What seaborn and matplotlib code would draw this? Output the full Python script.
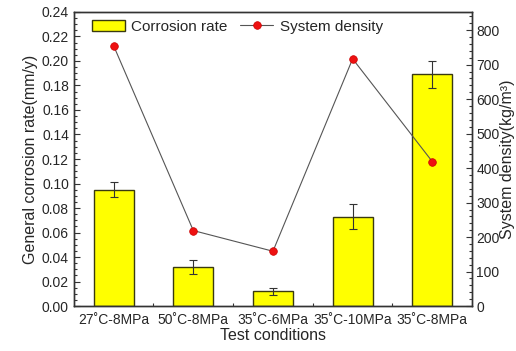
import numpy as np
import pandas as pd
import matplotlib
matplotlib.use('Agg')
import matplotlib.pyplot as plt
import seaborn as sns
from matplotlib.ticker import MultipleLocator
from matplotlib.patches import Patch
from matplotlib.lines import Line2D

# dados
condicoes = ['27˚C-8MPa', '50˚C-8MPa', '35˚C-6MPa', '35˚C-10MPa', '35˚C-8MPa']
taxa_corrosao = [0.095, 0.032, 0.012, 0.073, 0.189]
erro_corrosao = [0.006, 0.006, 0.003, 0.010, 0.011]
densidade = [755, 219, 159, 717, 419]

sns.set_style('ticks')
plt.rcParams['font.family'] = ['Liberation Sans', 'DejaVu Sans']
plt.rcParams['xtick.direction'] = 'in'
plt.rcParams['ytick.direction'] = 'in'

dados = pd.DataFrame({'Condição': condicoes, 'Taxa': taxa_corrosao,
                      'Erro': erro_corrosao, 'Densidade': densidade,
                      'pos': np.arange(len(condicoes))})

fig = plt.figure(figsize = (5.16, 3.51), dpi = 100)
ax = fig.add_axes([0.143, 0.128, 0.772, 0.838])

sns.barplot(x = 'Condição', y = 'Taxa', data = dados, color = '#FFFF00',
            saturation = 1, width = 0.5, edgecolor = '#3a3a10', linewidth = 1,
            errorbar = None, ax = ax)
ax.errorbar(dados['pos'], dados['Taxa'], yerr = dados['Erro'], fmt = 'none',
            ecolor = '#333333', elinewidth = 0.8, capsize = 3, capthick = 0.8)

ax.set_xlim(-0.5, 4.5)
ax.set_ylim(0, 0.24)
ax.yaxis.set_major_locator(MultipleLocator(0.02))
ax.yaxis.set_minor_locator(MultipleLocator(0.005))
ax.yaxis.set_major_formatter(matplotlib.ticker.FormatStrFormatter('%.2f'))
ax.set_xticks(dados['pos'])
ax.set_xticklabels(condicoes)
ax.set_xticks(dados['pos'][:-1] + 0.5, minor = True)
ax.tick_params(axis = 'both', which = 'major', labelsize = 10, length = 4, width = 0.8, color = '#333333')
ax.tick_params(axis = 'both', which = 'minor', length = 2.5, width = 0.8, color = '#333333')
ax.tick_params(axis = 'x', which = 'major', pad = 5)
ax.set_xlabel('Test conditions', fontsize = 11.5, labelpad = 1)
ax.set_ylabel('General corrosion rate(mm/y)', fontsize = 11.5, labelpad = 3)
for s in ax.spines.values():
    s.set_color('#333333')
    s.set_linewidth(1)

ax2 = ax.twinx()
sns.lineplot(x = 'pos', y = 'Densidade', data = dados, ax = ax2, color = '#555555',
             linewidth = 0.8, marker = 'o', markersize = 5.5, markerfacecolor = '#ee1111',
             markeredgecolor = '#cc0000', markeredgewidth = 0.5)
ax2.set_ylim(0, 853)
ax2.yaxis.set_major_locator(MultipleLocator(100))
ax2.yaxis.set_minor_locator(MultipleLocator(20))
ax2.tick_params(axis = 'y', which = 'major', labelsize = 10, length = 4, width = 0.8, color = '#333333', pad = 3)
ax2.tick_params(axis = 'y', which = 'minor', length = 2.5, width = 0.8, color = '#333333')
ax2.set_ylabel('System density(kg/m³)', fontsize = 11.5, labelpad = 0)
ax2.set_xlabel('')
for s in ax2.spines.values():
    s.set_color('#333333')
    s.set_linewidth(1)

handles = [Patch(facecolor = '#FFFF00', edgecolor = '#3a3a10', linewidth = 1),
           Line2D([], [], color = '#555555', linewidth = 0.8, marker = 'o', markersize = 5.5,
                  markerfacecolor = '#ee1111', markeredgecolor = '#cc0000', markeredgewidth = 0.5)]
ax2.legend(handles, ['Corrosion rate', 'System density'], loc = 'upper left',
           bbox_to_anchor = (0.01, 1.02), ncol = 2, frameon = False, fontsize = 11,
           handlelength = 2.2, handletextpad = 0.4, columnspacing = 0.8)

plt.savefig('out.png', dpi = 100)
